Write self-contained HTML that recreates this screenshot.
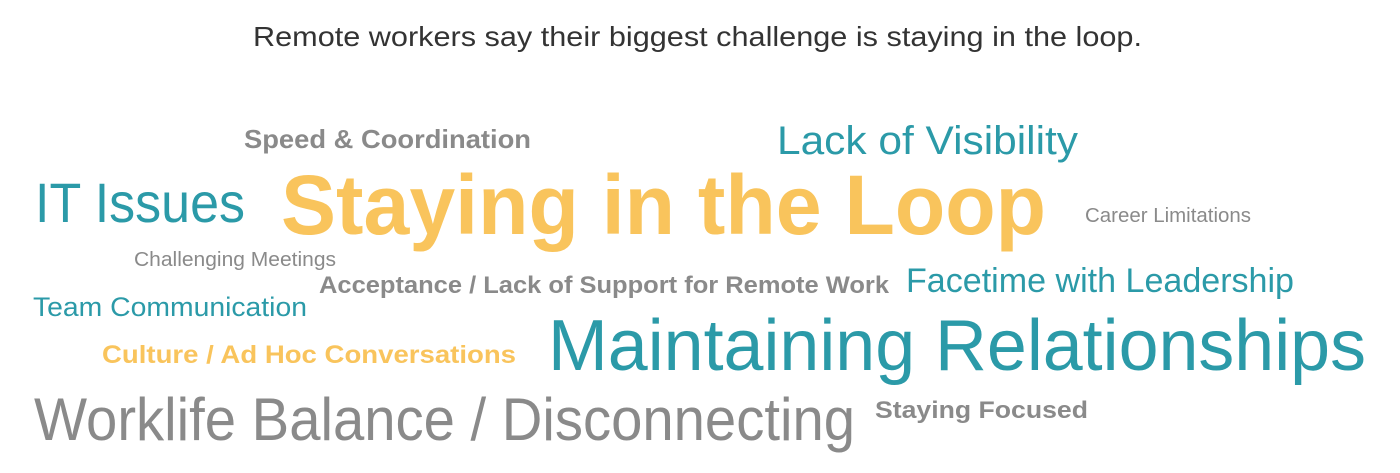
<!DOCTYPE html>
<html><head><meta charset="utf-8">
<style>
html,body{margin:0;padding:0;background:#fff;}
svg{display:block;}
text{font-family:"Liberation Sans",sans-serif;}
.t{fill:#2b9aa8;}
.y{fill:#f9c45c;}
.g{fill:#8a8a8a;}
.b{font-weight:bold;}
</style></head>
<body>
<svg width="1400" height="473" viewBox="0 0 1400 473">
<text x="253" y="46" font-size="28" fill="#333" textLength="889" lengthAdjust="spacingAndGlyphs">Remote workers say their biggest challenge is staying in the loop.</text>
<text class="g b" x="244" y="148" font-size="26" textLength="287" lengthAdjust="spacingAndGlyphs">Speed &amp; Coordination</text>
<text class="t" x="777" y="154" font-size="40" textLength="301" lengthAdjust="spacingAndGlyphs">Lack of Visibility</text>
<text class="t" x="35" y="222" font-size="56" textLength="210" lengthAdjust="spacingAndGlyphs">IT Issues</text>
<text class="y b" x="281" y="234" font-size="84" textLength="765" lengthAdjust="spacingAndGlyphs">Staying in the Loop</text>
<text class="g" x="1085" y="222" font-size="20" textLength="166" lengthAdjust="spacingAndGlyphs">Career Limitations</text>
<text class="g" x="134" y="266" font-size="20" textLength="202" lengthAdjust="spacingAndGlyphs">Challenging Meetings</text>
<text class="g b" x="319" y="293" font-size="24" textLength="570" lengthAdjust="spacingAndGlyphs">Acceptance / Lack of Support for Remote Work</text>
<text class="t" x="906" y="292" font-size="34" textLength="388" lengthAdjust="spacingAndGlyphs">Facetime with Leadership</text>
<text class="t" x="33" y="316" font-size="27" textLength="274" lengthAdjust="spacingAndGlyphs">Team Communication</text>
<text class="y b" x="102" y="363" font-size="25" textLength="414" lengthAdjust="spacingAndGlyphs">Culture / Ad Hoc Conversations</text>
<text class="t" x="548" y="370" font-size="72" textLength="818" lengthAdjust="spacingAndGlyphs">Maintaining Relationships</text>
<text class="g" x="34" y="440" font-size="60" textLength="821" lengthAdjust="spacingAndGlyphs">Worklife Balance / Disconnecting</text>
<text class="g b" x="875" y="418" font-size="24" textLength="213" lengthAdjust="spacingAndGlyphs">Staying Focused</text>
</svg>
</body></html>
